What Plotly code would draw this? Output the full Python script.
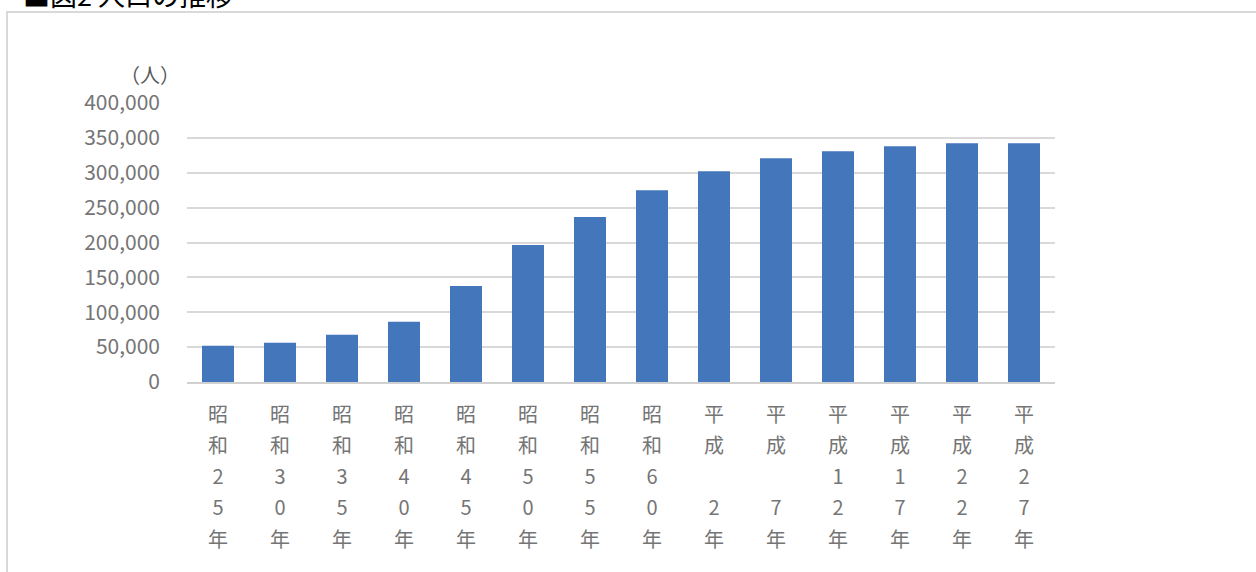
import plotly.graph_objects as go

eras = ["昭和"] * 8 + ["平成"] * 6
years = ["25", "30", "35", "40", "45", "50", "55", "60", "2", "7", "12", "17", "22", "27"]
population = [52000, 56200, 67700, 86300, 137700, 196400, 236400, 275000,
              302200, 320800, 330800, 337900, 342200, 342200]

categories = [e + y + "年" for e, y in zip(eras, years)]


def vertical_label(era, year):
    chars = list(era) + list(year.rjust(2)) + ["年"]
    return "<br>".join('<span style="font-size:20px">%s</span>' % (c if c != " " else "\u00a0") for c in chars)


ticktext = [vertical_label(e, y) for e, y in zip(eras, years)]

W, H = 1256, 572
L, R, T, B = 187, 1055, 103, 382
pw, ph = R - L, B - T


def px(x):
    return (x - L) / pw


def py(y):
    return (B - y) / ph


fig = go.Figure()
fig.add_trace(go.Bar(
    x=categories,
    y=population,
    marker=dict(color="#4476bc", line=dict(width=0)),
    hoverinfo="x+y",
))

fig.update_layout(
    width=W, height=H,
    margin=dict(l=L, r=W - R, t=T, b=H - B, pad=0),
    paper_bgcolor="white",
    plot_bgcolor="white",
    showlegend=False,
    bargap=0.484,
    font=dict(family="Noto Sans CJK JP", color="#757575"),
    xaxis=dict(
        type="category",
        tickmode="array",
        tickvals=categories,
        ticktext=ticktext,
        tickfont=dict(size=24, color="#757575", family="Noto Sans CJK JP"),
        tickangle=0,
        showgrid=False,
        showline=True,
        linecolor="#d0d0d0",
        linewidth=2,
        ticks="",
        ticklabelstandoff=9,
    ),
    yaxis=dict(
        range=[0, 400000],
        dtick=50000,
        tickformat=",",
        tickfont=dict(size=21, color="#757575", family="Noto Sans CJK JP"),
        showgrid=True,
        gridcolor="#d9d9d9",
        gridwidth=1.5,
        zeroline=False,
        showline=False,
        ticks="",
        ticklabelstandoff=26,
    ),
    shapes=[
        dict(type="rect", xref="paper", yref="paper",
             x0=px(7), x1=px(W + 20), y0=py(H + 20), y1=py(12),
             line=dict(color="#d9d9d9", width=2), fillcolor="rgba(0,0,0,0)", layer="below"),
    ],
    annotations=[
        dict(text="■図2 人口の推移", xref="paper", yref="paper",
             x=px(21), y=py(-6), xanchor="left", yanchor="middle",
             showarrow=False, font=dict(size=27, color="#000000", family="Noto Sans CJK JP")),
        dict(text="（人）", xref="paper", yref="paper",
             x=px(150), y=py(74), xanchor="center", yanchor="middle",
             showarrow=False, font=dict(size=20, color="#595959", family="Noto Sans CJK JP")),
    ],
)

fig.write_html("out.html")
